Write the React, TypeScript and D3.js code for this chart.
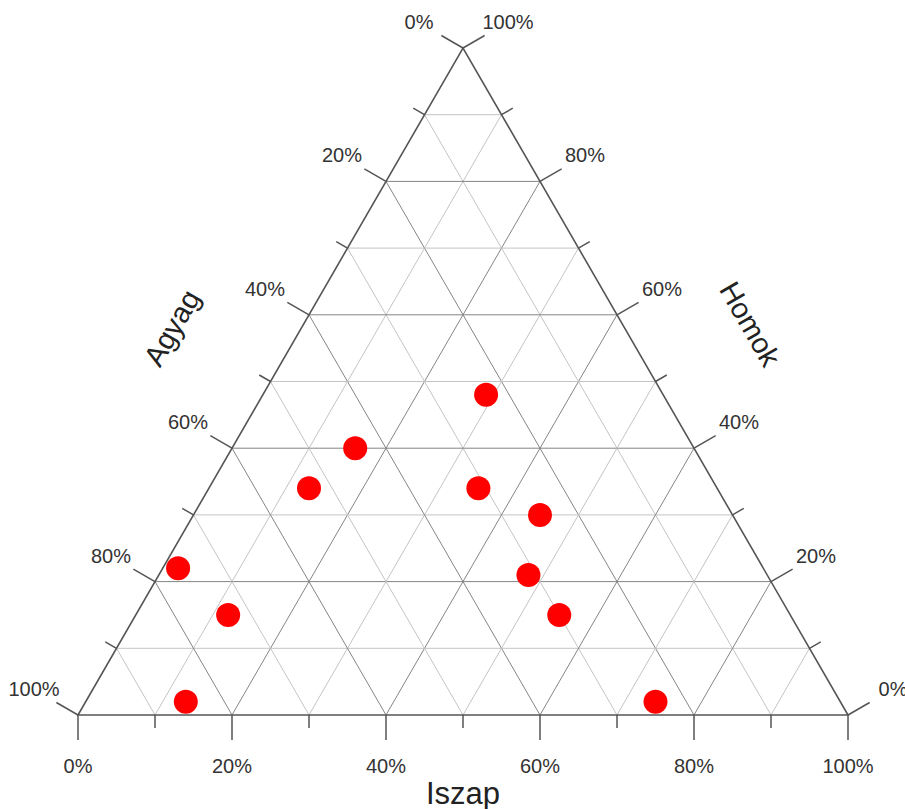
import React from "react";
import * as d3 from "d3";

// Data: each sample's composition (fractions)
const iszap = [0.29, 0.16, 0.13, 0.35, 0.45, 0.02, 0.48, 0.12, 0.55, 0.13, 0.74];
const agyag = [0.23, 0.44, 0.53, 0.31, 0.25, 0.76, 0.31, 0.73, 0.30, 0.85, 0.24];
const homok = [0.48, 0.40, 0.34, 0.34, 0.30, 0.22, 0.21, 0.15, 0.15, 0.02, 0.02];

const tickValues = d3.range(0, 1.0001, 0.1);
const majorValues = d3.range(0, 1.0001, 0.2);
const tickLabels = ["0%", "20%", "40%", "60%", "80%", "100%"];

const W = 905;
const H = 809;

export default function App() {
  const xs = d3.scaleLinear().domain([0, 1]).range([78, 848]);
  const ys = d3.scaleLinear().domain([0, 1]).range([715, 48]);
  const P = (s: number, h: number): [number, number] => [xs(s + h / 2), ys(h)];

  const isMajor = (v: number) => Math.abs(Math.round(v * 10) % 2) === 0;
  const c30 = Math.cos(Math.PI / 6);
  const s30 = 0.5;
  const font = "'Liberation Sans', Arial, sans-serif";
  const inner = tickValues.filter((v) => v > 0.001 && v < 0.999);

  const grid: JSX.Element[] = [];
  inner.forEach((k, i) => {
    const col = isMajor(k) ? "#858585" : "#c4c4c4";
    const sw = 1;
    const h1 = P(0, k), h2 = P(1 - k, k);
    grid.push(<line key={"h" + i} x1={h1[0]} y1={h1[1]} x2={h2[0]} y2={h2[1]} stroke={col} strokeWidth={sw} />);
    const s1 = P(k, 0), s2 = P(k, 1 - k);
    grid.push(<line key={"s" + i} x1={s1[0]} y1={s1[1]} x2={s2[0]} y2={s2[1]} stroke={col} strokeWidth={sw} />);
    const a1 = P(1 - k, 0), a2 = P(0, 1 - k);
    grid.push(<line key={"a" + i} x1={a1[0]} y1={a1[1]} x2={a2[0]} y2={a2[1]} stroke={col} strokeWidth={sw} />);
  });

  const ticks: JSX.Element[] = [];
  tickValues.forEach((v, i) => {
    const len = isMajor(v) ? 25 : 13;
    const b = P(v, 0);
    ticks.push(<line key={"tb" + i} x1={b[0]} y1={b[1]} x2={b[0]} y2={b[1] + len} stroke="#555" strokeWidth={1.5} />);
    const l = P(0, 1 - v);
    ticks.push(<line key={"tl" + i} x1={l[0]} y1={l[1]} x2={l[0] - len * c30} y2={l[1] - len * s30} stroke="#555" strokeWidth={1.5} />);
    const r = P(1 - v, v);
    ticks.push(<line key={"tr" + i} x1={r[0]} y1={r[1]} x2={r[0] + len * c30} y2={r[1] - len * s30} stroke="#555" strokeWidth={1.5} />);
  });

  const labels: JSX.Element[] = [];
  majorValues.forEach((v, i) => {
    const txt = tickLabels[i];
    const b = P(v, 0);
    labels.push(<text key={"lb" + i} x={b[0]} y={b[1] + 51} textAnchor="middle" dominantBaseline="central" fontSize={20} fill="#333" fontFamily={font}>{txt}</text>);
    const l = P(0, 1 - v);
    labels.push(<text key={"ll" + i} x={l[0] - 44} y={l[1] - 26} textAnchor="middle" dominantBaseline="central" fontSize={20} fill="#333" fontFamily={font}>{txt}</text>);
    const r = P(1 - v, v);
    labels.push(<text key={"lr" + i} x={r[0] + 45} y={r[1] - 26} textAnchor="middle" dominantBaseline="central" fontSize={20} fill="#333" fontFamily={font}>{txt}</text>);
  });

  const A = P(0, 0), B = P(1, 0), C = P(0, 1);

  return (
    <svg width={W} height={H} style={{ position: "absolute", left: 0, top: 0, background: "#fff" }}>
      <rect width={W} height={H} fill="#fff" />
      {grid}
      <path d={`M${A[0]},${A[1]}L${B[0]},${B[1]}L${C[0]},${C[1]}Z`} fill="none" stroke="#555" strokeWidth={1.6} />
      {ticks}
      {labels}
      {iszap.map((s, i) => {
        const p = P(s, homok[i]);
        return <circle key={"p" + i} cx={p[0]} cy={p[1]} r={12} fill="#ff0000" data-agyag={agyag[i]} />;
      })}
      <text x={463} y={804} textAnchor="middle" fontSize={31} fill="#222" fontFamily={font}>Iszap</text>
      <text transform="translate(172,328) rotate(-60)" textAnchor="middle" dominantBaseline="central" fontSize={29} fill="#222" fontFamily={font}>Agyag</text>
      <text transform="translate(750,324) rotate(60)" textAnchor="middle" dominantBaseline="central" fontSize={29} fill="#222" fontFamily={font}>Homok</text>
    </svg>
  );
}
